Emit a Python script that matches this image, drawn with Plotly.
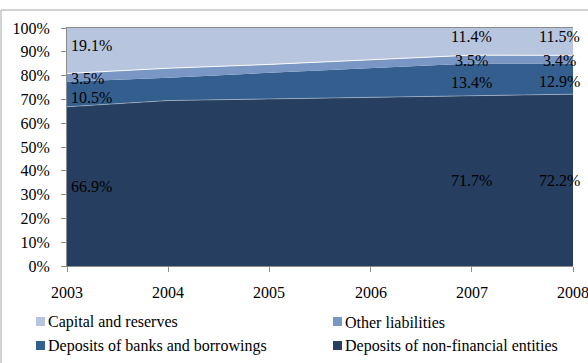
import plotly.graph_objects as go

years = [2003, 2004, 2005, 2006, 2007, 2008]
deposits_nonfin = [66.9, 69.5, 70.2, 70.9, 71.7, 72.2]
deposits_banks = [10.5, 9.6, 11.0, 12.4, 13.4, 12.9]
other_liab = [3.5, 4.0, 3.5, 3.5, 3.5, 3.4]
capital = [19.1, 16.9, 15.3, 13.2, 11.4, 11.5]
y_ticks = list(range(0, 101, 10))
y_tick_labels = [f"{v}%" for v in y_ticks]

series_names = ["Deposits of non-financial entities", "Deposits of banks and borrowings",
                "Other liabilities", "Capital and reserves"]
series_vals = [deposits_nonfin, deposits_banks, other_liab, capital]
colors = ["#263E5F", "#345E8E", "#7A96C4", "#B8C5DE"]
line_cols = ["rgba(255,255,255,0.35)", "rgba(255,255,255,0)", "rgba(255,255,255,0.9)", "rgba(255,255,255,0)"]
label_yshift = [0, -3, -1, 5]
label_years = [2003, 2007, 2008]

FONT = "'Liberation Serif', 'Times New Roman', 'DejaVu Serif', serif"
W, H = 588, 363
L, R, T, B = 67, 15, 28, 97
PW, PH = W - L - R, H - T - B


def px_x(px):
    return (px - L) / PW


def px_y(py):
    return (H - B - py) / PH


fig = go.Figure()
for name, vals, c, lc in zip(series_names, series_vals, colors, line_cols):
    fig.add_trace(go.Scatter(x=years, y=vals, name=name, stackgroup="one", mode="lines",
                             line=dict(width=1, color=lc), fillcolor=c, showlegend=False,
                             hoverinfo="skip"))

# data labels
for yr in label_years:
    i = years.index(yr)
    base = 0
    for vals, ys in zip(series_vals, label_yshift):
        v = vals[i]
        mid = base + v / 2
        base += v
        if yr == 2003:
            xa, xs = "left", 2
        elif yr == 2008:
            xa, xs = "center", -14
        else:
            xa, xs = "center", 0
        fig.add_annotation(x=yr, y=mid, text=f"{v:.1f}%", showarrow=False,
                           xanchor=xa, xshift=xs, yshift=ys,
                           font=dict(family=FONT, size=16, color="black"))

# x tick labels (as annotations so the last one is not dropped)
for yr in years:
    fig.add_annotation(x=yr, xref="x", yref="paper", y=px_y(292), text=str(yr),
                       showarrow=False, xanchor="center", yanchor="middle",
                       font=dict(family=FONT, size=16, color="black"))

# manual legend, 2 columns x 2 rows
legend_order = ["Capital and reserves", "Other liabilities",
                "Deposits of banks and borrowings", "Deposits of non-financial entities"]
legend_cols = dict(zip(series_names, colors))
pos = [(36, 322), (333, 322), (36, 346), (333, 346)]
for name, (lx, ly) in zip(legend_order, pos):
    fig.add_shape(type="rect", xref="paper", yref="paper",
                  x0=px_x(lx), x1=px_x(lx + 9), y0=px_y(ly - 5), y1=px_y(ly + 4),
                  fillcolor=legend_cols[name], line=dict(width=0))
    fig.add_annotation(xref="paper", yref="paper", x=px_x(lx + 10), y=px_y(ly),
                       text=name, showarrow=False, xanchor="left", yanchor="middle",
                       font=dict(family=FONT, size=16, color="black"))

# outer chart border (partly cropped)
fig.add_shape(type="line", xref="paper", yref="paper", x0=px_x(1), x1=px_x(600), y0=px_y(10), y1=px_y(10),
              line=dict(color="#A6A6A6", width=1))
fig.add_shape(type="line", xref="paper", yref="paper", x0=px_x(1), x1=px_x(1), y0=px_y(10), y1=px_y(400),
              line=dict(color="#A6A6A6", width=1))

fig.update_layout(
    width=W, height=H,
    margin=dict(l=L, r=R, t=T, b=B, autoexpand=False),
    paper_bgcolor="white", plot_bgcolor="white",
    font=dict(family=FONT, size=16, color="black"),
    showlegend=False,
    xaxis=dict(range=[2003, 2008], tickvals=years, ticks="outside", ticklen=5,
               tickcolor="#8C8C8C", showline=True, linecolor="#8C8C8C", mirror=True,
               showgrid=False, zeroline=False, showticklabels=False),
    yaxis=dict(range=[0, 100], tickvals=y_ticks, ticktext=y_tick_labels,
               ticks="outside", ticklen=5, tickcolor="#8C8C8C", showline=True,
               linecolor="#8C8C8C", showgrid=False, zeroline=False, ticklabelstandoff=8,
               tickfont=dict(family=FONT, size=16)),
)

fig.write_html("out.html")
